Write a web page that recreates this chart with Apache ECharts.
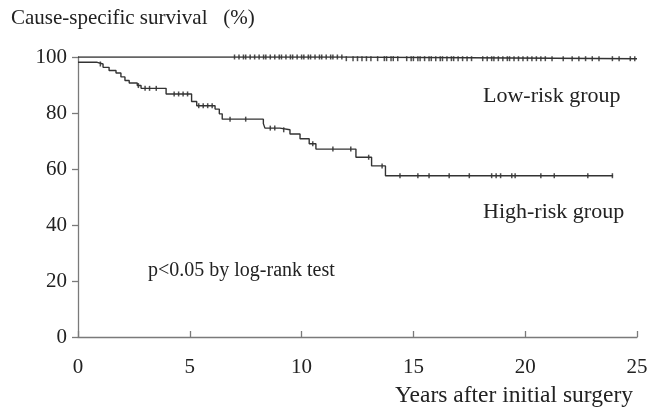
<!DOCTYPE html>
<html>
<head>
<meta charset="utf-8">
<script src="https://cdn.jsdelivr.net/npm/echarts@6/dist/echarts.min.js"></script>
<style>
  html, body { margin: 0; padding: 0; background: #fff; }
  #chart { width: 654px; height: 409px; }
</style>
</head>
<body>
<div id="chart"></div>
<script>
// Kaplan-Meier steps: [years, survival %] (level holds until the next point)
const lowRiskSteps = [[0, 100], [11.9, 99.4], [25, 99.4]];
const highRiskSteps = [
  [0, 98.1], [0.86, 97.5], [1.12, 96.3], [1.39, 95.2], [1.7, 94.3], [1.92, 92.9],
  [2.1, 91.6], [2.29, 90.7], [2.65, 89.8], [2.82, 88.8], [3.94, 86.8], [5.08, 84.1],
  [5.31, 82.6], [6.13, 81.4], [6.32, 79.7], [6.45, 77.8], [8.29, 76.2], [8.36, 74.6],
  [9.03, 74.0], [9.48, 72.5], [9.93, 70.8], [10.34, 69.0], [10.64, 67.1], [12.43, 64.2],
  [13.13, 61.1], [13.75, 57.6], [23.93, 57.6]
];
// censored observations (years)
const lowRiskCensored = [
  7.0, 7.2, 7.4, 7.5, 7.7, 7.9, 8.1, 8.3, 8.4, 8.6, 8.8, 9.0, 9.1, 9.3, 9.5, 9.6, 9.8,
  10.0, 10.1, 10.3, 10.4, 10.6, 10.8, 10.9, 11.1, 11.3, 11.4, 11.6, 11.8,
  12.0, 12.3, 12.5, 12.7, 12.9, 13.1, 13.4, 13.7, 13.8, 14.0, 14.1, 14.3, 14.7, 14.9,
  15.0, 15.2, 15.3, 15.5, 15.7, 15.8, 16.0, 16.2, 16.3, 16.5, 16.7, 16.8, 17.0, 17.2,
  17.4, 17.6, 18.1, 18.3, 18.5, 18.6, 18.8, 19.0, 19.2, 19.3, 19.5, 19.7, 19.9, 20.1,
  20.3, 20.5, 20.7, 20.9, 21.2, 21.7, 22.1, 22.4, 22.7, 23.0, 23.3, 23.9, 24.2, 24.7, 24.9
];
const highRiskCensored = [
  1.0, 2.7, 3.0, 3.2, 3.5, 4.3, 4.5, 4.7, 4.9, 5.4, 5.6, 5.8, 6.0, 6.8, 7.5, 8.6, 8.8,
  9.2, 10.5, 11.4, 12.2, 13.0, 13.6, 14.4, 15.2, 15.7, 16.6, 17.5, 18.5, 18.7, 18.9,
  19.4, 19.55, 20.7, 21.3, 22.8, 23.9
];
const xTicks = [0, 5, 10, 15, 20, 25];
const yTicks = [0, 20, 40, 60, 80, 100];

// survival level at time t
function levelAt(steps, t) {
  let v = steps[0][1];
  for (const s of steps) { if (s[0] <= t) v = s[1]; }
  return v;
}

const font = '"Liberation Serif", "DejaVu Serif", serif';
const ink = '#222';
const axisGray = '#7a7a7a';

let chart = echarts.init(document.getElementById('chart'));
chart.setOption({
  animation: false,
  backgroundColor: '#fff',
  grid: { left: 78, right: 17, top: 57, bottom: 72 },
  xAxis: {
    type: 'value', min: xTicks[0], max: xTicks[xTicks.length - 1], interval: 5,
    axisLine: { lineStyle: { color: axisGray, width: 1.3 } },
    axisTick: { inside: true, length: 6, lineStyle: { color: axisGray, width: 1.3 } },
    axisLabel: { color: ink, fontFamily: font, fontSize: 21, margin: 20 },
    splitLine: { show: false }
  },
  yAxis: {
    type: 'value', min: yTicks[0], max: yTicks[yTicks.length - 1], interval: 20,
    axisLine: { show: true, lineStyle: { color: axisGray, width: 1.3 } },
    axisTick: { show: true, length: 6, lineStyle: { color: axisGray, width: 1.3 } },
    axisLabel: { color: ink, fontFamily: font, fontSize: 21, margin: 11 },
    splitLine: { show: false }
  },
  series: [
    {
      name: 'Low-risk group', type: 'line', step: 'end', data: lowRiskSteps,
      showSymbol: false, lineStyle: { color: '#333', width: 1.4 }
    },
    {
      name: 'High-risk group', type: 'line', step: 'end', data: highRiskSteps,
      showSymbol: false, lineStyle: { color: '#333', width: 1.4 }
    },
    {
      type: 'scatter', symbol: 'rect', symbolSize: [1.5, 5],
      itemStyle: { color: ink },
      data: lowRiskCensored.map(t => [t, levelAt(lowRiskSteps, t)])
    },
    {
      type: 'scatter', symbol: 'rect', symbolSize: [1.5, 5],
      itemStyle: { color: ink },
      data: highRiskCensored.map(t => [t, levelAt(highRiskSteps, t)])
    }
  ],
  graphic: [
    { type: 'text', left: 11, top: 8,
      style: { text: 'Cause-specific survival   (%)', fill: ink, font: '21px ' + font } },
    { type: 'text', left: 395, top: 384,
      style: { text: 'Years after initial surgery', fill: ink, font: '23.5px ' + font } },
    { type: 'text', left: 483, top: 85,
      style: { text: 'Low-risk group', fill: ink, font: '22px ' + font } },
    { type: 'text', left: 483, top: 201,
      style: { text: 'High-risk group', fill: ink, font: '22px ' + font } },
    { type: 'text', left: 148, top: 261,
      style: { text: 'p<0.05 by log-rank test', fill: ink, font: '20px ' + font } }
  ]
});
</script>
</body>
</html>
